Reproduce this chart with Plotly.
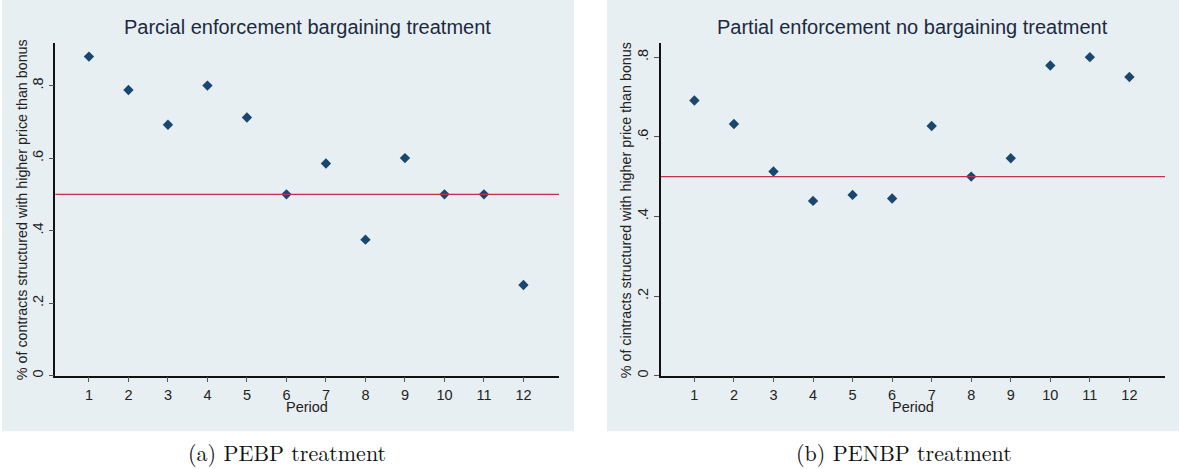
import plotly.graph_objects as go

periods = [1, 2, 3, 4, 5, 6, 7, 8, 9, 10, 11, 12]
pebp = [0.88, 0.788, 0.692, 0.80, 0.712, 0.50, 0.585, 0.375, 0.60, 0.50, 0.50, 0.25]
penbp = [0.691, 0.632, 0.513, 0.439, 0.454, 0.445, 0.627, 0.50, 0.546, 0.779, 0.80, 0.75]
ref_line = 0.5
ytick_vals = [0, 0.2, 0.4, 0.6, 0.8]
ytick_text = ["0", ".2", ".4", ".6", ".8"]
titles = ["Parcial enforcement bargaining treatment", "Partial enforcement no bargaining treatment"]
ytitles = ["% of contracts structured with higher price than bonus",
           "% of cintracts structured with higher price than bonus"]
captions = ["(a) PEBP treatment", "(b) PENBP treatment"]

W, H = 1179, 469
def px(x): return x / W
def py(y): return 1 - y / H

FONT = "Liberation Sans, Arial, sans-serif"
NAVY = "#1a476f"
BG = "#e8eff2"
LINE = "#c0304f"

fig = go.Figure()

panels = [
    dict(bg=(2, 574), plot=(55.3, 559), top=43, bot=377.2, yr=[0, 0.918], data=pebp, ytx=22, cap=287),
    dict(bg=(607, 1179), plot=(660.7, 1165), top=43, bot=377.3, yr=[0, 0.836], data=penbp, ytx=626, cap=904),
]

shapes = []
annotations = []
for i, p in enumerate(panels):
    n = "" if i == 0 else "2"
    shapes.append(dict(type="rect", xref="paper", yref="paper",
                       x0=px(p["bg"][0]), x1=px(p["bg"][1]), y0=py(433), y1=py(0),
                       fillcolor=BG, line=dict(width=0), layer="below"))
    fig.add_trace(go.Scatter(x=periods, y=p["data"], mode="markers",
                             marker=dict(symbol="diamond", size=8, color=NAVY),
                             xaxis="x" + n, yaxis="y" + n, showlegend=False))
    fig.add_trace(go.Scatter(x=[0, 13], y=[ref_line, ref_line], mode="lines",
                             line=dict(color=LINE, width=1.2),
                             xaxis="x" + n, yaxis="y" + n, showlegend=False))
    xd = [px(p["plot"][0]), px(p["plot"][1])]
    yd = [py(p["bot"]), py(p["top"])]
    fig.update_layout(**{
        "xaxis" + n: dict(domain=xd, range=[0.148, 12.9], tickvals=periods,
                          ticks="outside", ticklen=5, tickcolor="#555", showgrid=False,
                          zeroline=False, showline=True, linecolor="#111", linewidth=1.5,
                          tickfont=dict(family=FONT, size=14.5, color="#222"),
                          anchor="y" + n, fixedrange=True),
        "yaxis" + n: dict(domain=yd, range=p["yr"], tickvals=ytick_vals, ticktext=ytick_text,
                          ticks="outside", ticklen=5, tickcolor="#555", showgrid=False,
                          zeroline=False, showline=True, linecolor="#111", linewidth=1.5,
                          tickangle=-90,
                          tickfont=dict(family=FONT, size=14.5, color="#222"),
                          anchor="x" + n, fixedrange=True),
    })
    cx = (p["plot"][0] + p["plot"][1]) / 2
    annotations.append(dict(text=titles[i], xref="paper", yref="paper", x=px(cx), y=py(27),
                            showarrow=False, xanchor="center", yanchor="middle",
                            font=dict(family=FONT, size=20, color="#1c2a3f")))
    annotations.append(dict(text="Period", xref="paper", yref="paper", x=px(cx), y=py(409),
                            showarrow=False, xanchor="center", yanchor="middle",
                            font=dict(family=FONT, size=14.5, color="#222")))
    annotations.append(dict(text=ytitles[i], xref="paper", yref="paper", x=px(p["ytx"]),
                            y=py((p["top"] + p["bot"]) / 2 + 1), textangle=-90,
                            showarrow=False, xanchor="center", yanchor="middle",
                            font=dict(family=FONT, size=14.3, color="#222")))
    annotations.append(dict(text=captions[i], xref="paper", yref="paper",
                            x=px(p["cap"]), y=py(453),
                            showarrow=False, xanchor="center", yanchor="middle",
                            font=dict(family="Latin Modern Roman, DejaVu Serif, Liberation Serif, serif",
                                      size=22, color="#111")))

fig.update_layout(width=W, height=H, margin=dict(l=0, r=0, t=0, b=0),
                  paper_bgcolor="white", plot_bgcolor="white",
                  shapes=shapes, annotations=annotations)

fig.write_html("out.html", config={"displayModeBar": False},
               post_script="document.body.style.margin='0';document.body.style.overflow='hidden';")
